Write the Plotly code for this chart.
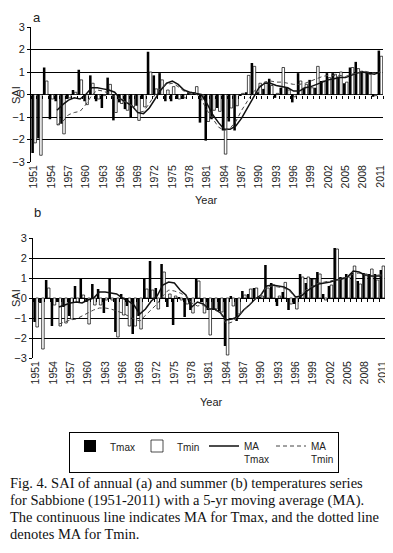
import plotly.graph_objects as go

years = list(range(1951, 2012))
tick_years = list(range(1951, 2012, 3))

# Panel a: annual
a_tmax = [-2.6, -1.95, 1.2, -1.1, -0.3, -1.3, -0.2, 0.2, 1.1, -0.3,
          0.85, -0.3, -0.6, 0.75, -1.15, -0.35, -0.65, -1.0, -0.5, -0.2,
          1.9, 0.85, 0.95, -0.3, -0.3, -0.2, -0.2, 0.1, 0.1, -1.25,
          -2.05, -1.1, -0.6, -1.6, -1.2, -1.6, -0.05, 0.1, 1.4, 0.1,
          0.25, 0.7, -0.15, 0.3, 0.3, -0.35, 0.95, 0.3, 0.65, 0.3,
          0.6, 0.95, 0.95, 0.8, 0.5, 1.2, 1.45, 1.05, 1.0, -0.1, 1.95]
a_tmin = [-2.15, -2.7, 0.6, -0.2, -1.35, -1.75, -0.15, 0.1, 0.65, -0.45,
          0.5, -0.2, -0.05, 0.45, -0.8, -0.4, -0.7, -0.55, -1.15, -0.55,
          1.0, 0.25, 0.65, 0.2, 0.35, -0.2, -0.15, 0.1, 0.35, -0.2,
          -1.2, -0.7, -0.75, -2.65, -0.6, -0.5, 0.05, 0.85, 1.25, 0.5,
          0.55, 0.4, 0.05, 1.2, 0.2, -0.1, 0.6, 0.45, 0.3, 1.25,
          0.6, 0.75, 0.9, 1.0, 0.55, 1.2, 1.15, 1.0, 0.9, -0.05, 1.7]
a_ma_tmax = [None, None, None, None,
             -0.7, -0.45, -0.25, -0.15, -0.2, 0.0, 0.3, 0.3, 0.25, 0.2,
             0.1, -0.2, -0.35, -0.5, -0.8, -0.85, -0.6, -0.2, 0.2, 0.5,
             0.6, 0.45, 0.2, 0.1, 0.05, 0.0, -0.4, -0.9, -1.25, -1.55,
             -1.55, -1.4, -1.05, -0.6, -0.1, 0.3, 0.5, 0.5, 0.4, 0.35,
             0.3, 0.15, 0.15, 0.3, 0.35, 0.45, 0.55, 0.65, 0.7, 0.75,
             0.75, 0.85, 0.95, 1.0, 0.95, 0.9, 1.0]
a_ma_tmin = [None, None, None, None,
             -1.35, -1.2, -0.9, -0.8, -0.75, -0.45, -0.05, 0.2, 0.15, 0.05,
             -0.1, -0.2, -0.35, -0.5, -0.8, -0.75, -0.4, 0.0, 0.3, 0.45,
             0.5, 0.35, 0.15, 0.05, 0.05, -0.2, -0.7, -1.1, -1.45, -1.6,
             -1.5, -1.2, -0.7, -0.3, 0.1, 0.35, 0.55, 0.6, 0.55, 0.55,
             0.5, 0.45, 0.45, 0.5, 0.6, 0.7, 0.8, 0.85, 0.85, 0.85,
             0.8, 0.9, 0.95, 1.05, 1.0, 0.95, 1.0]

# Panel b: summer
b_tmax = [-1.2, -0.25, 0.9, -1.4, -0.2, -0.45, -0.9, 0.6, 0.95, -0.2,
          0.7, 0.45, -0.75, 0.95, -1.7, 0.2, -0.4, -1.8, -0.9, 1.0,
          1.85, 0.5, 1.7, -0.45, -1.35, 0.05, -0.95, -0.6, 0.95, -0.2,
          -0.6, -0.6, -0.65, -2.4, 0.1, -1.15, 0.35, 0.2, 0.5, 0.05,
          1.65, 0.75, -0.4, 0.3, -0.6, -0.3, 1.2, 0.75, 1.0, 1.3,
          0.2, 0.6, 2.5, 1.05, 1.2, 1.25, 0.85, 1.25, 1.2, 1.2, 1.4]
b_tmin = [-1.45, -2.55, 0.5, -0.35, -1.4, -1.25, -1.05, -0.2, 0.15, -1.3,
          -0.35, -0.35, -0.1, -0.1, -1.95, -0.85, -1.4, -1.4, -1.55, 0.45,
          0.4, -0.55, 1.3, 0.2, 0.1, -0.1, -0.3, -0.75, 0.85, -0.75,
          -1.85, -0.55, -0.7, -2.85, -0.4, -0.8, 0.15, 0.45, 0.5, 0.1,
          0.5, 0.65, 0.1, 0.78, -0.3, -0.55, 1.05, 1.05, 0.95, 1.2,
          -0.1, 0.65, 2.45, 1.0, 1.05, 1.6, 0.7, 1.2, 1.45, 0.9, 1.6]
b_ma_tmax = [None, None, None, None,
             -0.45, -0.35, -0.25, -0.2, -0.25, -0.1, 0.0, 0.3, 0.3, 0.25,
             0.2, 0.0, -0.15, -0.35, -0.8, -0.55, -0.15, 0.1, 0.65, 0.8,
             0.75, 0.4, 0.15, -0.45, -0.2, -0.3, -0.55, -0.55, -0.75, -1.1,
             -1.05, -0.95, -0.6, -0.35, -0.05, 0.15, 0.6, 0.65, 0.6, 0.55,
             0.4, 0.05, 0.1, 0.35, 0.55, 0.7, 0.75, 0.8, 0.9, 0.95,
             1.05, 1.35, 1.3, 1.15, 1.1, 1.1, 1.1]
b_ma_tmin = [None, None, None, None,
             -1.3, -1.2, -1.1, -1.05, -0.9, -0.75, -0.6, -0.5, -0.5, -0.55,
             -0.65, -0.75, -0.9, -1.05, -1.15, -0.85, -0.55, -0.3, 0.1, 0.4,
             0.35, 0.25, 0.1, -0.25, -0.4, -0.35, -0.55, -0.6, -0.75, -1.3,
             -1.2, -0.9, -0.6, -0.3, -0.05, 0.15, 0.55, 0.6, 0.55, 0.5,
             0.35, 0.0, 0.2, 0.45, 0.6, 0.75, 0.8, 0.85, 0.9, 0.95,
             1.05, 1.2, 1.25, 1.15, 1.1, 1.15, 1.15]

caption_lines = [
    "Fig. 4. SAI of annual (a) and summer (b) temperatures series",
    "for Sabbione (1951-2011) with a 5-yr moving average (MA).",
    "The continuous line indicates MA for Tmax, and the dotted line",
    "denotes MA for Tmin.",
]

# The page body keeps an 8px margin, so the figure is sized to the visible area
OFF = 8
W, H = 393 - OFF, 553 - OFF
SANS = "Liberation Sans, Arial, sans-serif"
SERIF = "Liberation Serif, Times New Roman, serif"


def px_x(p):
    return (p - OFF) / W


def px_y(p):
    return 1 - (p - OFF) / H


fig = go.Figure()

panels = [
    dict(tmax=a_tmax, tmin=a_tmin, mat=a_ma_tmax, man=a_ma_tmin,
         xa="x", ya="y", xo="x3", legend=True),
    dict(tmax=b_tmax, tmin=b_tmin, mat=b_ma_tmax, man=b_ma_tmin,
         xa="x2", ya="y2", xo="x4", legend=False),
]

for p in panels:
    fig.add_trace(go.Bar(x=years, y=p["tmax"], name="Tmax", xaxis=p["xa"], yaxis=p["ya"],
                         marker=dict(color="black", line=dict(width=0)),
                         showlegend=p["legend"], offsetgroup="1"))
    fig.add_trace(go.Bar(x=years, y=p["tmin"], name="Tmin", xaxis=p["xa"], yaxis=p["ya"],
                         marker=dict(color="white", line=dict(color="black", width=0.7)),
                         showlegend=p["legend"], offsetgroup="2"))
    fig.add_trace(go.Scatter(x=years, y=p["mat"], name="MA<br>Tmax", mode="lines",
                             xaxis=p["xo"], yaxis=p["ya"],
                             line=dict(color="#111111", width=1.5),
                             showlegend=p["legend"]))
    fig.add_trace(go.Scatter(x=years, y=p["man"], name="MA<br>Tmin", mode="lines",
                             xaxis=p["xo"], yaxis=p["ya"],
                             line=dict(color="#444444", width=1, dash="4px,3px"),
                             showlegend=p["legend"]))

# domains
ax_dom = [px_x(31), px_x(383)]
ay_dom = [px_y(162), px_y(27)]
bx_dom = [px_x(33), px_x(385)]
by_dom = [px_y(358), px_y(238)]

xrange_ = [years[0] - 0.5, years[-1] + 0.5]


def yaxis(dom, anchor):
    return dict(domain=dom, anchor=anchor, range=[-3, 3], dtick=1, tick0=0,
                automargin=False,
                showgrid=True, gridcolor="black", gridwidth=1,
                zeroline=True, zerolinecolor="black", zerolinewidth=1,
                showline=True, linecolor="black", linewidth=1,
                ticks="outside", ticklen=3, tickcolor="black",
                tickfont=dict(family=SANS, size=11, color="#222"))


def xaxis_bottom(dom, anchor):
    return dict(domain=dom, anchor=anchor, range=xrange_, type="linear",
                automargin=False,
                tickmode="array", tickvals=tick_years, ticktext=[str(t) for t in tick_years],
                tickangle=-90, showgrid=False, zeroline=False, showline=False,
                ticks="", tickfont=dict(family=SANS, size=10.5, color="#222"))


def xaxis_zero(dom, match, ydom):
    return dict(domain=dom, overlaying=match, matches=match, anchor="free",
                automargin=False,
                position=(ydom[0] + ydom[1]) / 2, type="linear", range=xrange_,
                tickmode="linear", tick0=years[0] - 0.5, dtick=1,
                ticks="outside", ticklen=3, tickcolor="black", tickwidth=1,
                showticklabels=False, showgrid=False, zeroline=False, showline=False)


fig.update_layout(
    template="none",
    width=W, height=H,
    margin=dict(l=0, r=0, t=0, b=0, autoexpand=False),
    paper_bgcolor="white", plot_bgcolor="white",
    barmode="group", bargap=0.12, bargroupgap=0,
    xaxis=xaxis_bottom(ax_dom, "y"),
    yaxis=yaxis(ay_dom, "x"),
    xaxis2=xaxis_bottom(bx_dom, "y2"),
    yaxis2=yaxis(by_dom, "x2"),
    xaxis3=xaxis_zero(ax_dom, "x", ay_dom),
    xaxis4=xaxis_zero(bx_dom, "x2", by_dom),
    legend=dict(orientation="h", x=px_x(69), y=px_y(432), xanchor="left", yanchor="top",
                bordercolor="black", borderwidth=1, bgcolor="white",
                font=dict(family=SANS, size=10, color="#222"),
                itemwidth=30, entrywidth=22, entrywidthmode="pixels",
                traceorder="normal", valign="top"),
    showlegend=True,
)

ann = []
ann.append(dict(text="a", x=px_x(31), y=1, xanchor="left", yanchor="top",
                font=dict(family=SANS, size=13, color="#222")))
ann.append(dict(text="b", x=px_x(32), y=px_y(213), xanchor="left", yanchor="middle",
                font=dict(family=SANS, size=13, color="#222")))
for yc in (95, 298):
    ann.append(dict(text="SAI", x=0, y=px_y(yc), textangle=-90,
                    xanchor="left", yanchor="middle",
                    font=dict(family=SANS, size=11, color="#222")))
ann.append(dict(text="Year", x=px_x(207), y=px_y(200), xanchor="center", yanchor="middle",
                font=dict(family=SANS, size=11, color="#222")))
ann.append(dict(text="Year", x=px_x(212), y=px_y(402), xanchor="center", yanchor="middle",
                font=dict(family=SANS, size=11, color="#222")))
for i, line in enumerate(caption_lines):
    ann.append(dict(text=line, x=0, y=px_y(483 + 17 * i), xanchor="left", yanchor="middle",
                    font=dict(family=SERIF, size=14.5, color="#111")))

for a in ann:
    a.update(xref="paper", yref="paper", showarrow=False)
fig.update_layout(annotations=ann)

fig.write_html("out.html")
